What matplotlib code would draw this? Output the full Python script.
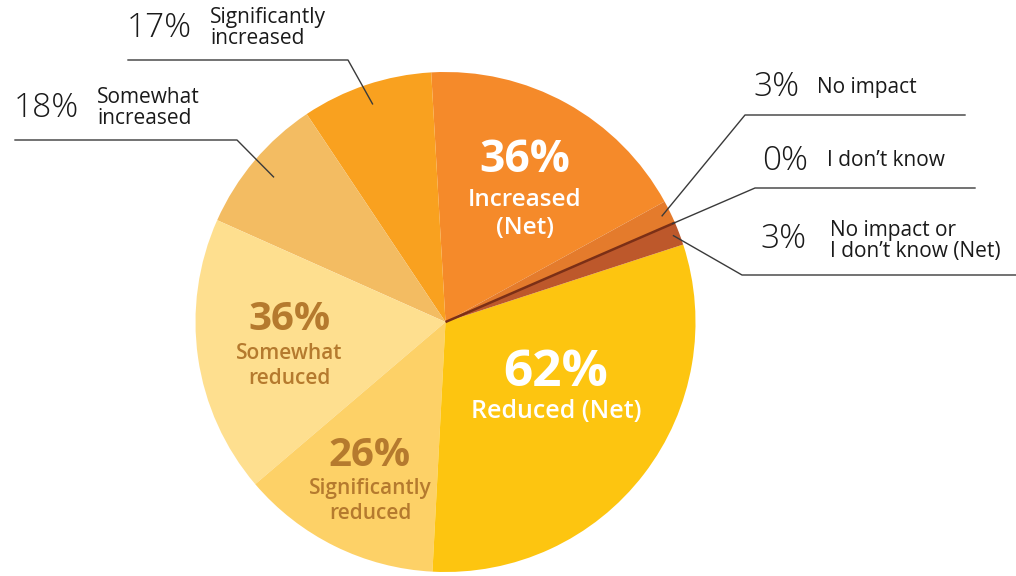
import matplotlib.pyplot as plt
import numpy as np

W, H = 1016, 576

labels = [
    "Increased (Net)",
    "Significantly\nincreased",
    "Somewhat\nincreased",
    "Somewhat\nreduced",
    "Significantly\nreduced",
    "Reduced (Net)",
    "No impact or\nI don\u2019t know (Net)",
    "I don\u2019t know",
    "No impact",
]
values = [36, 17, 18, 36, 26, 62, 3, 0, 3]
colors = ["#F58A2A", "#F9A11F", "#F3BC62", "#FEDF8F", "#FDD167",
          "#FDC510", "#BD582B", "#7B2F16", "#E47B2C"]

plt.rcParams["font.family"] = ["Open Sans", "DejaVu Sans"]


def px(x, y):
    # pixel coords measured from the top-left corner
    return x, H - y


fig = plt.figure(figsize=(W / 100, H / 100), dpi=100)
ax = fig.add_axes([0, 0, 1, 1])

cx, cy = px(445.5, 322)
radius = 250
wedges, _ = ax.pie(values, colors=colors, startangle=28.8, counterclock=True,
                   center=(cx, cy), radius=radius,
                   wedgeprops=dict(linewidth=0))
ax.set_xlim(0, W)
ax.set_ylim(0, H)
ax.set_aspect("equal")
ax.axis("off")

# zero-size slice is shown as a thin dark line
for w, v, c in zip(wedges, values, colors):
    if v == 0:
        t = np.deg2rad(w.theta1)
        ax.plot([cx, cx + radius * np.cos(t)], [cy, cy + radius * np.sin(t)],
                color=c, lw=1.8, solid_capstyle="butt")


def anchor(i, frac):
    w = wedges[i]
    t = np.deg2rad((w.theta1 + w.theta2) / 2)
    return cx + radius * frac * np.cos(t), cy + radius * frac * np.sin(t)


# leader lines: (slice index, radius fraction, elbow, far end of horizontal)
leaders = [
    (1, 0.92, px(348, 60), px(128, 60)),
    (2, 0.90, px(237, 140), px(15, 140)),
    (8, 0.965, px(745, 115), px(965, 115)),
    (7, 0.99, px(755, 188), px(975, 188)),
    (6, 0.975, px(742, 275), px(1016, 275)),
]
for i, frac, elbow, end in leaders:
    a = anchor(i, frac)
    ax.plot([a[0], elbow[0], end[0]], [a[1], elbow[1], end[1]],
            color="#3a3a3a", lw=1.0)

# outside labels: (index, pct position, label position)
outside = [
    (1, (127, 37), (210, 28)),
    (2, (14, 117), (97, 108)),
    (8, (753, 96), (817, 87)),
    (7, (762, 170), (827, 161)),
    (6, (760, 248), (830, 241)),
]
for i, (pxx, pyy), (lx, ly) in outside:
    ax.text(*px(pxx, pyy), f"{values[i]}%", fontsize=24, fontweight="light",
            color="#1a1a1a", ha="left", va="baseline")
    ax.text(*px(lx, ly), labels[i], fontsize=15, color="#1a1a1a",
            ha="left", va="center", linespacing=1.05)

# inside labels
inside_brown = "#B57A2E"
ax.text(*px(525, 160), f"{values[0]}%", fontsize=32, fontweight="bold",
        color="white", ha="center", va="center")
ax.text(*px(525, 214), "Increased\n(Net)", fontsize=17.5, fontweight="semibold",
        color="white", ha="center", va="center", linespacing=1.2)

ax.text(*px(556, 373), f"{values[5]}%", fontsize=37, fontweight="bold",
        color="white", ha="center", va="center")
ax.text(*px(556, 411), labels[5], fontsize=18, fontweight="semibold",
        color="white", ha="center", va="center")

ax.text(*px(289, 320), f"{values[3]}%", fontsize=29, fontweight="bold",
        color=inside_brown, ha="center", va="center")
ax.text(*px(289, 366), labels[3], fontsize=15, fontweight="semibold",
        color=inside_brown, ha="center", va="center", linespacing=1.25)

ax.text(*px(370, 456), f"{values[4]}%", fontsize=29, fontweight="bold",
        color=inside_brown, ha="center", va="center")
ax.text(*px(370, 501), labels[4], fontsize=15, fontweight="semibold",
        color=inside_brown, ha="center", va="center", linespacing=1.25)

fig.savefig("out.png", dpi=100, facecolor="white")
plt.close(fig)
